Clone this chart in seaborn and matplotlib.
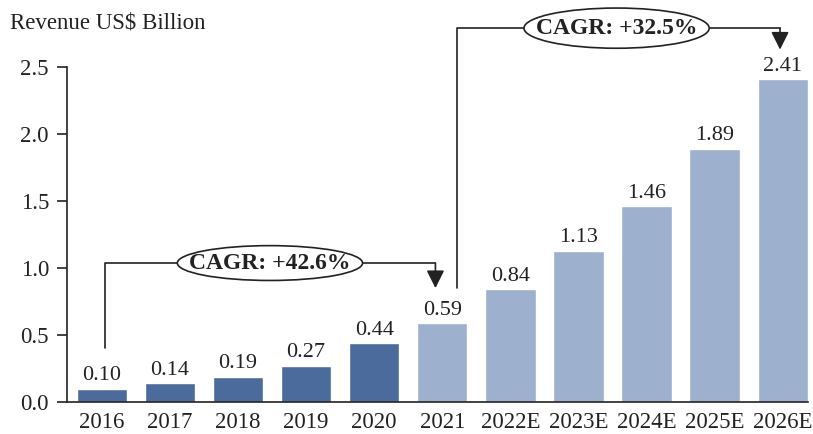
import matplotlib
matplotlib.use("Agg")
import matplotlib.pyplot as plt
import seaborn as sns
import pandas as pd
from matplotlib.patches import Ellipse

years = ["2016", "2017", "2018", "2019", "2020", "2021", "2022E", "2023E", "2024E", "2025E", "2026E"]
revenue = [0.10, 0.14, 0.19, 0.27, 0.44, 0.59, 0.84, 1.13, 1.46, 1.89, 2.41]
value_labels = ["0.10", "0.14", "0.19", "0.27", "0.44", "0.59", "0.84", "1.13", "1.46", "1.89", "2.41"]
yticks = [0.0, 0.5, 1.0, 1.5, 2.0, 2.5]
cagr_labels = ["CAGR: +42.6%", "CAGR: +32.5%"]

dark = "#4A6B9B"
light = "#9DB0CE"
colors = [dark] * 5 + [light] * 6

sns.set_theme(style="white")
plt.rcParams["font.family"] = ["Liberation Serif", "DejaVu Serif"]

fig = plt.figure(figsize=(8.13, 4.34), dpi=100)
ax = fig.add_axes([0.0824, 0.0737, 0.9114, 0.7719])

df = pd.DataFrame({"year": years, "rev": revenue})
sns.barplot(data=df, x="year", y="rev", hue="year", palette=colors, legend=False,
            width=0.74, saturation=1, ax=ax)

ax.set_xlim(-0.51, 10.37)
ax.set_ylim(0, 2.5)
ax.set_yticks(yticks)
ax.set_yticklabels([f"{t:.1f}" for t in yticks])
ax.set_xlabel("")
ax.set_ylabel("")
for s in ["top", "right"]:
    ax.spines[s].set_visible(False)
for s in ["left", "bottom"]:
    ax.spines[s].set_color("#222222")
    ax.spines[s].set_linewidth(1.2)
ax.tick_params(axis="y", direction="out", length=7, width=1.2, color="#222222",
               labelsize=16.5, labelcolor="#222222", pad=6, left=True)
ax.tick_params(axis="x", length=0, labelsize=16.5, labelcolor="#222222", pad=7)

for i, (v, lab) in enumerate(zip(revenue, value_labels)):
    ax.text(i, v + 0.025, lab, ha="center", va="bottom", fontsize=16, color="#222222")

fig.text(0.012, 0.948, "Revenue US$ Billion", fontsize=16.5, color="#222222", va="center")

lc = "#222222"
arrow_kw = dict(arrowstyle="-|>,head_length=0.9,head_width=0.45", color=lc, lw=1.2,
                mutation_scale=12, shrinkA=0, shrinkB=0)
# CAGR bracket 1
x0, x1, yh = 0.05, 4.9, 1.037
ax.plot([x0, x0, x1], [0.40, yh, yh], color=lc, lw=1.2, clip_on=False)
ax.annotate("", xy=(x1, 0.85), xytext=(x1, yh), arrowprops=arrow_kw, annotation_clip=False)
e1 = Ellipse((2.47, yh), 2.72, 0.26, facecolor="white", edgecolor=lc, lw=1.2, clip_on=False, zorder=5)
ax.add_patch(e1)
ax.text(2.47, yh, cagr_labels[0], ha="center", va="center", fontsize=17, fontweight="bold",
        color=lc, zorder=6)

# CAGR bracket 2
x0, x1, yh = 5.21, 9.96, 2.79
ax.plot([x0, x0, x1], [0.85, yh, yh], color=lc, lw=1.2, clip_on=False)
ax.annotate("", xy=(x1, 2.63), xytext=(x1, yh), arrowprops=arrow_kw, annotation_clip=False)
e2 = Ellipse((7.56, yh), 2.72, 0.30, facecolor="white", edgecolor=lc, lw=1.2, clip_on=False, zorder=5)
ax.add_patch(e2)
ax.text(7.56, yh, cagr_labels[1], ha="center", va="center", fontsize=17, fontweight="bold",
        color=lc, zorder=6)

fig.savefig("out.png", dpi=100)
